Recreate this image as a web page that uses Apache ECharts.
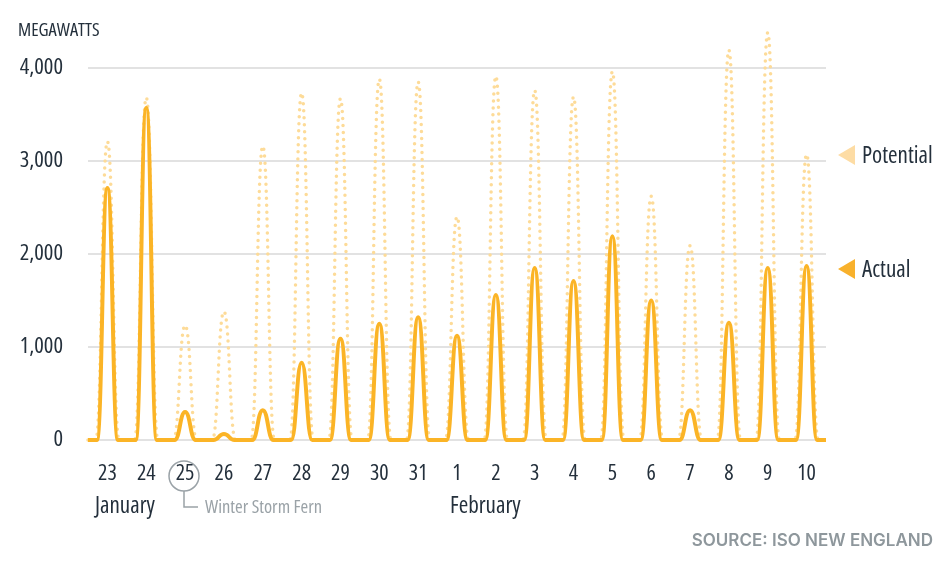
<!DOCTYPE html>
<html>
<head>
<meta charset="utf-8">
<script src="https://cdn.jsdelivr.net/npm/echarts@6/dist/echarts.min.js"></script>
<style>
  html, body { margin: 0; padding: 0; background: #fff; }
  #chart { width: 950px; height: 570px; }
</style>
</head>
<body>
<div id="chart"></div>
<script>
// days shown on the axis, Jan 23 .. Feb 10
var dayLabels = ['23', '24', '25', '26', '27', '28', '29', '30', '31',
  '1', '2', '3', '4', '5', '6', '7', '8', '9', '10'];
// daily peak output, MW
var actualPeak = [2710, 3570, 300, 65, 320, 830, 1090, 1250, 1320,
  1120, 1560, 1850, 1710, 2190, 1500, 320, 1260, 1850, 1870];
var potentialPeak = [3210, 3680, 1230, 1380, 3160, 3730, 3670, 3880, 3850,
  2400, 3910, 3760, 3690, 3960, 2620, 2090, 4190, 4380, 3070];
var yTicks = [0, 1000, 2000, 3000, 4000];

var FAMILY = '"Open Sans", sans-serif';
function cond(size) { return 'condensed ' + size + 'px ' + FAMILY; }
var INK = '#24303c';
var GREY = '#9aa2a7';
var ACTUAL = '#FBB426';
var POTENTIAL = '#FDDB98';

// one day = 1 unit on x; sun up roughly for the middle part of the day
function dayCurve(peaks, halfWidth) {
  var pts = [[0, 0]];
  for (var i = 0; i < peaks.length; i++) {
    var mid = i + 0.5;
    pts.push([mid - halfWidth, 0]);
    pts.push([mid, peaks[i]]);
    pts.push([mid + halfWidth, 0]);
  }
  pts.push([peaks.length, 0]);
  return pts;
}

var chart = echarts.init(document.getElementById('chart'));

var option = {
  backgroundColor: '#fff',
  animation: false,
  grid: { left: 88, right: 124, top: 68, bottom: 130 },
  xAxis: [{
    type: 'value',
    min: 0,
    max: dayLabels.length,
    show: false
  }, {
    type: 'category',
    data: dayLabels,
    position: 'bottom',
    boundaryGap: true,
    axisLine: { show: false },
    axisTick: { show: false },
    axisLabel: {
      color: INK, fontSize: 22, fontStyle: 'condensed', fontFamily: FAMILY, margin: 23
    }
  }],
  yAxis: {
    type: 'value',
    min: yTicks[0],
    max: yTicks[yTicks.length - 1],
    interval: 1000,
    axisLine: { show: false },
    axisTick: { show: false },
    axisLabel: {
      color: INK, fontSize: 22.5, fontStyle: 'condensed', fontFamily: FAMILY, margin: 25,
      formatter: function (v) { return v.toLocaleString('en-US'); }
    },
    splitLine: { lineStyle: { color: '#d8d8d8', width: 1.5 } }
  },
  series: [{
    name: 'Potential',
    type: 'line',
    xAxisIndex: 0,
    data: dayCurve(potentialPeak, 0.3),
    smooth: 0.5,
    smoothMonotone: 'x',
    showSymbol: false,
    clip: false,
    lineStyle: { color: POTENTIAL, width: 3.5, type: [0, 7], cap: 'round' }
  }, {
    name: 'Actual',
    type: 'line',
    xAxisIndex: 0,
    data: dayCurve(actualPeak, 0.27),
    smooth: 0.5,
    smoothMonotone: 'x',
    showSymbol: false,
    clip: false,
    lineStyle: { color: ACTUAL, width: 4 }
  }],
  graphic: [
    { type: 'text', left: 18, top: 21,
      style: { text: 'MEGAWATTS', fill: INK, font: cond(18.5) } },
    // legend
    { type: 'polygon', shape: { points: [[838, 155], [855, 145], [855, 165]] },
      style: { fill: '#FDDCA4' } },
    { type: 'text', left: 862, top: 145,
      style: { text: 'Potential', fill: INK, font: cond(23) } },
    { type: 'polygon', shape: { points: [[838, 269], [855, 259], [855, 279]] },
      style: { fill: '#F8B12C' } },
    { type: 'text', left: 862, top: 259,
      style: { text: 'Actual', fill: INK, font: cond(23) } },
    // month labels
    { type: 'text', left: 95, top: 495,
      style: { text: 'January', fill: INK, font: cond(23) } },
    { type: 'text', left: 450, top: 495,
      style: { text: 'February', fill: INK, font: cond(23) } },
    // storm callout
    { type: 'circle', shape: { cx: 184, cy: 476, r: 15 },
      style: { fill: 'none', stroke: GREY, lineWidth: 1.5 } },
    { type: 'polyline', shape: { points: [[184, 491], [184, 507], [198, 507]] },
      style: { fill: 'none', stroke: GREY, lineWidth: 1.5 } },
    { type: 'text', left: 205, top: 498,
      style: { text: 'Winter Storm Fern', fill: GREY, font: cond(18.5) } },
    { type: 'text', right: 17, top: 532,
      style: { text: 'SOURCE: ISO NEW ENGLAND', fill: '#8e979c',
        font: '600 17px Inter, "Liberation Sans", sans-serif' } }
  ]
};

chart.setOption(option);
</script>
</body>
</html>
